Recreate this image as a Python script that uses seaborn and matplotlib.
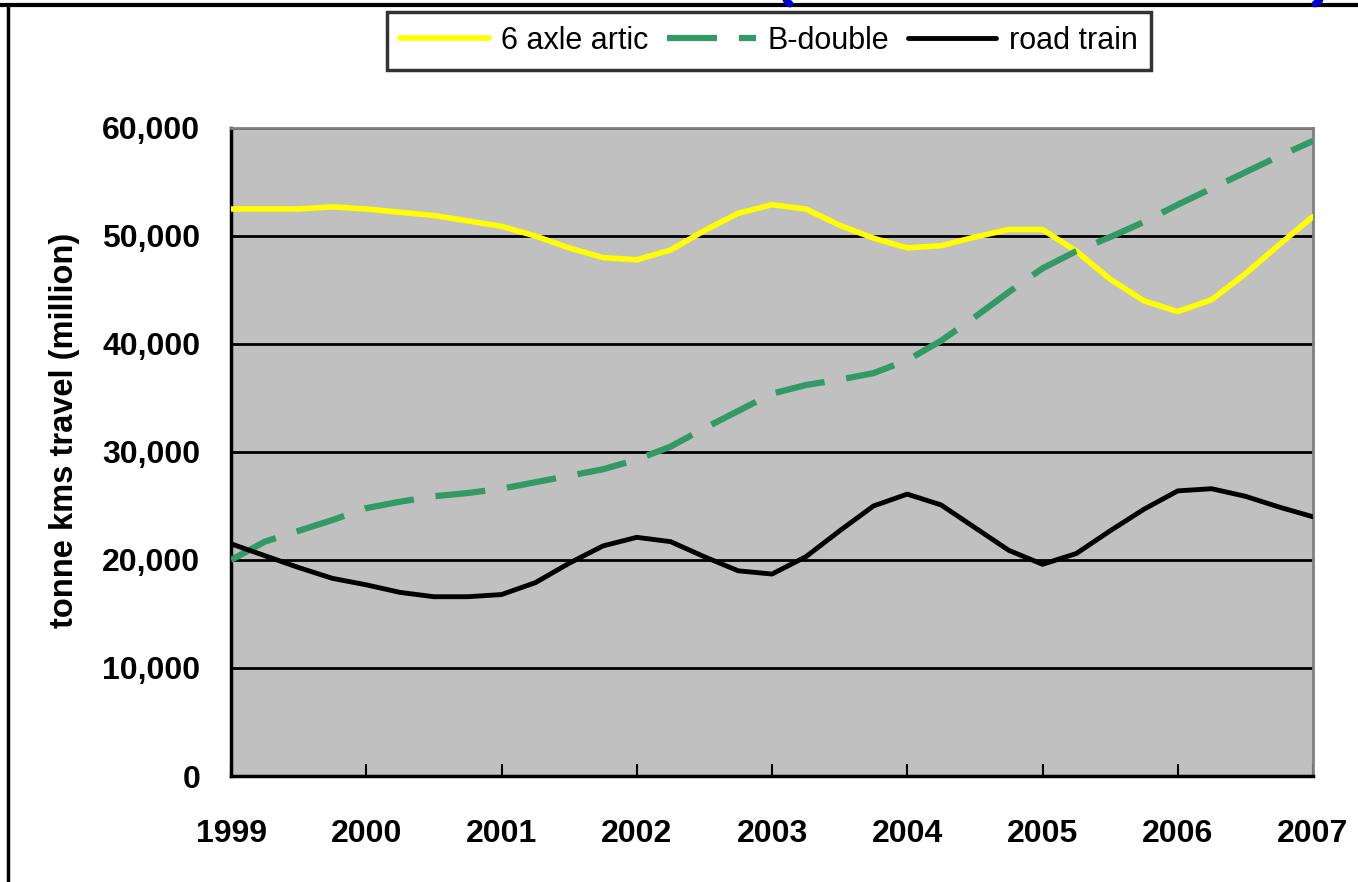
import numpy as np
import pandas as pd
import matplotlib
matplotlib.use("Agg")
import matplotlib.pyplot as plt
from matplotlib.lines import Line2D
import seaborn as sns

sns.set_theme(style="white")
plt.rcParams['font.family'] = ['Liberation Sans', 'DejaVu Sans']
plt.rcParams['text.color'] = 'black'
plt.rcParams['axes.labelcolor'] = 'black'
plt.rcParams['xtick.color'] = 'black'
plt.rcParams['ytick.color'] = 'black'

# quarterly observations 1999.00 .. 2007.00
quarters = [1999 + 0.25 * i for i in range(33)]

six_axle_artic = [52500, 52500, 52500, 52700, 52500, 52200, 51900, 51400, 50900,
                  50000, 48900, 48000, 47800, 48700, 50500, 52100, 52900, 52500,
                  51000, 49800, 48900, 49100, 49900, 50600, 50600, 48600, 46000,
                  44000, 43000, 44100, 46500, 49200, 51800]
b_double = [20000, 21700, 22700, 23700, 24800, 25400, 25900, 26200, 26600,
            27200, 27800, 28400, 29300, 30500, 32200, 33800, 35400, 36200,
            36700, 37300, 38500, 40300, 42500, 44800, 47000, 48600, 49900,
            51300, 52900, 54400, 55900, 57400, 58800]
road_train = [21500, 20400, 19300, 18300, 17700, 17000, 16600, 16600, 16800,
              17900, 19700, 21300, 22100, 21700, 20300, 19000, 18700, 20300,
              22700, 25000, 26100, 25100, 23000, 20900, 19600, 20600, 22700,
              24700, 26400, 26600, 25900, 24900, 24000]

series_names = ["6 axle artic", "B-double", "road train"]
year_ticks = list(range(1999, 2008))
y_ticks = [0, 10000, 20000, 30000, 40000, 50000, 60000]

df = pd.DataFrame({"year": quarters, series_names[0]: six_axle_artic,
                   series_names[1]: b_double, series_names[2]: road_train})

fig = plt.figure(figsize=(13.58, 8.82), dpi=100)
ax = fig.add_axes([231 / 1358, 1 - 776 / 882, (1313 - 231) / 1358, (776 - 128) / 882])
ax.set_facecolor("#C0C0C0")

styles = {
    "6 axle artic": dict(color="#FFFF00", lw=4.0, ls="-"),
    "B-double": dict(color="#339966", lw=4.5, ls=(0, (8, 3.5))),
    "road train": dict(color="#000000", lw=3.5, ls="-"),
}
for name in series_names:
    st = styles[name]
    sns.lineplot(data=df, x="year", y=name, ax=ax, color=st["color"],
                 linewidth=st["lw"], linestyle=st["ls"], label=name, zorder=3)

ax.set_xlim(1999, 2007)
ax.set_ylim(0, 60000)
ax.set_xticks(year_ticks)
ax.set_xticklabels([str(y) for y in year_ticks], fontsize=23, fontweight="bold")
ax.set_yticks(y_ticks)
ax.set_yticklabels([f"{v:,}" for v in y_ticks], fontsize=23, fontweight="bold")
ax.tick_params(axis="x", direction="in", length=9, width=1.5, color="black", pad=31, bottom=True)
ax.tick_params(axis="y", length=0, pad=22)
ax.yaxis.grid(True, color="black", linewidth=2)
ax.xaxis.grid(False)
ax.set_axisbelow(True)
ax.set_xlabel("")
ax.set_ylabel("tonne kms travel (million)", fontsize=23.5, fontweight="bold")
ax.yaxis.set_label_coords((80 - 231) / 1082, (776 - 430) / 648)

for side in ["left", "bottom"]:
    ax.spines[side].set_color("black")
    ax.spines[side].set_linewidth(2.5)
for side in ["top", "right"]:
    ax.spines[side].set_color("#808080")
    ax.spines[side].set_linewidth(2)

leg = ax.legend(loc="center", bbox_to_anchor=(769 / 1358, 1 - 41 / 882),
                bbox_transform=fig.transFigure, ncol=3, frameon=True,
                fontsize=22, handlelength=2.9, handletextpad=0.4,
                columnspacing=0.6, borderpad=0.45, fancybox=False)
leg.get_frame().set_edgecolor("black")
leg.get_frame().set_linewidth(2.5)
leg.get_frame().set_facecolor("white")

# slide frame borders
fig.add_artist(Line2D([0, 1], [1 - 5 / 882, 1 - 5 / 882], color="black", lw=3, transform=fig.transFigure))
fig.add_artist(Line2D([8 / 1358, 8 / 1358], [0, 1 - 5 / 882], color="black", lw=2.5, transform=fig.transFigure))
# tiny blue fragments of a shape above the frame
fig.add_artist(Line2D([786 / 1358, 790 / 1358], [1.0, 1 - 4 / 882], color="#0000CC", lw=5, transform=fig.transFigure))
fig.add_artist(Line2D([1320 / 1358, 1315 / 1358], [1.0, 1 - 4 / 882], color="#0000CC", lw=5, transform=fig.transFigure))

fig.savefig("out.png", dpi=100)
